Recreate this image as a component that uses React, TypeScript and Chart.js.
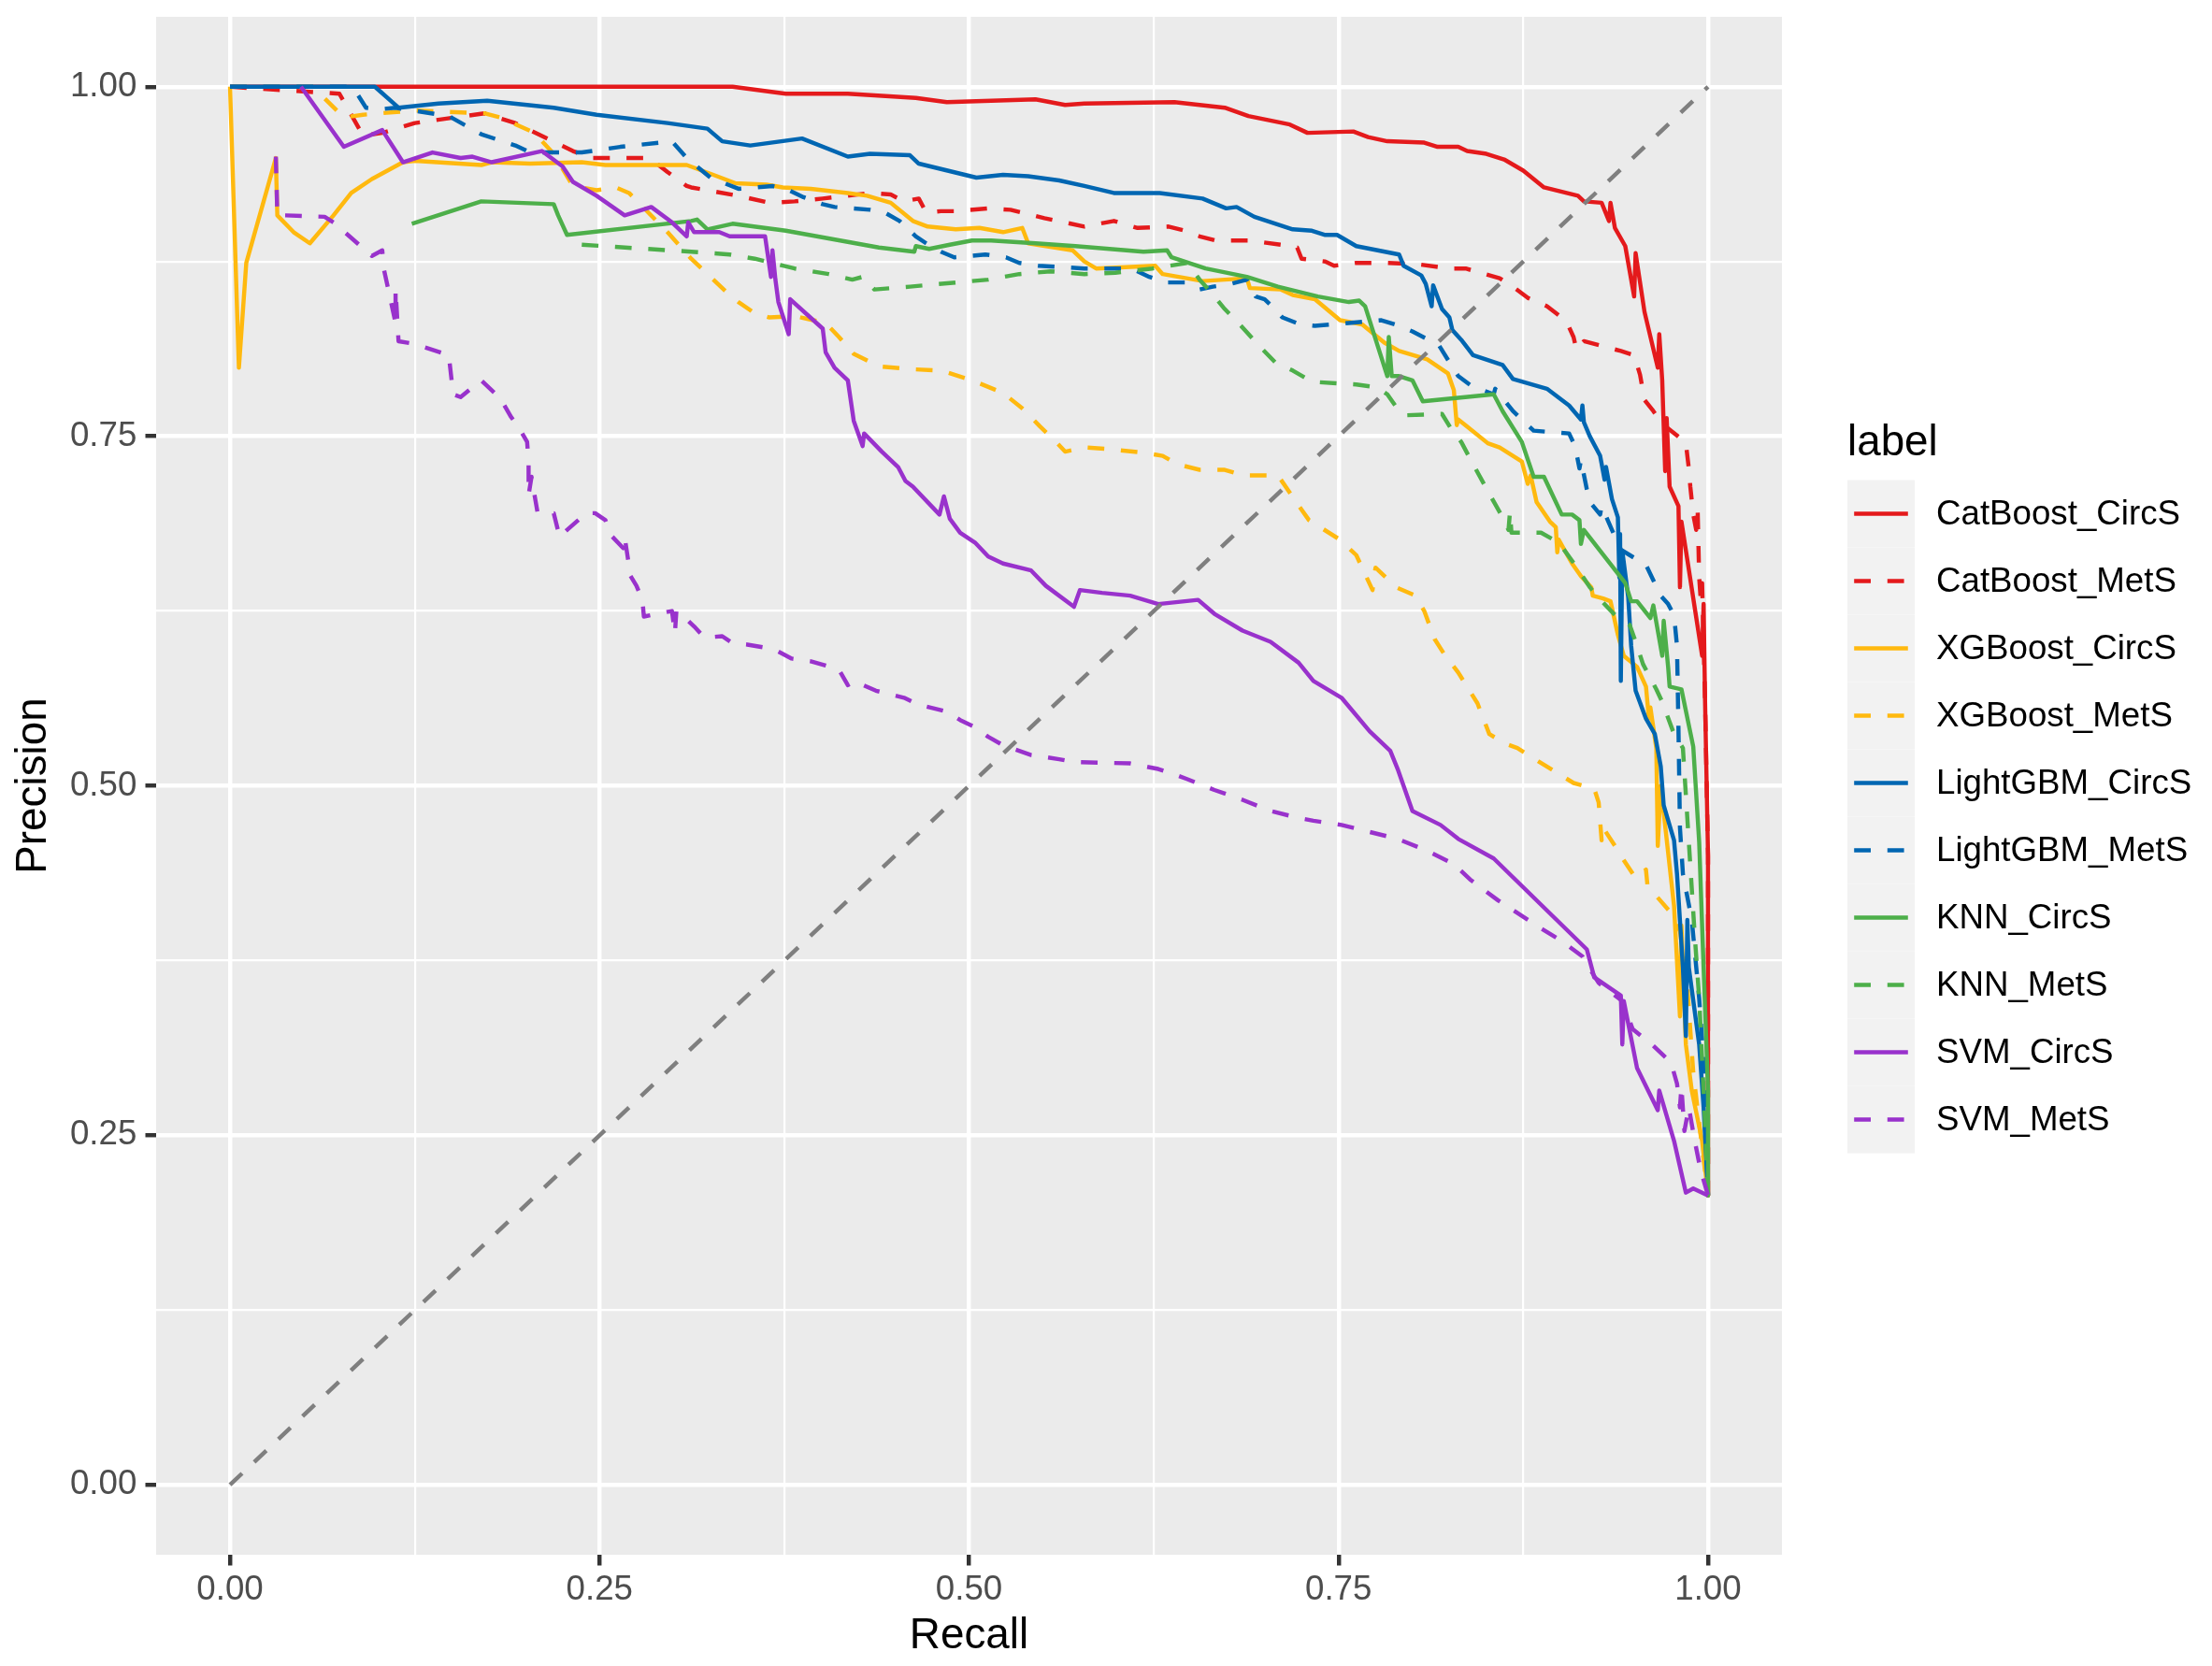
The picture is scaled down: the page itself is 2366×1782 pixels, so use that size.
import React, { useEffect, useRef } from 'react';
import { Chart, registerables } from 'chart.js';

Chart.register(...registerables);

// ---------- data ----------
const MAJOR_TICKS = [0, 0.25, 0.5, 0.75, 1];
const MINOR_TICKS = [0.125, 0.375, 0.625, 0.875];
const TICK_LABELS = ['0.00', '0.25', '0.50', '0.75', '1.00'];

const SERIES_LABELS = [
  'CatBoost_CircS', 'CatBoost_MetS', 'XGBoost_CircS', 'XGBoost_MetS', 'LightGBM_CircS',
  'LightGBM_MetS', 'KNN_CircS', 'KNN_MetS', 'SVM_CircS', 'SVM_MetS',
];

// [recall, precision]
const CATBOOST_CIRCS = [[0,1],[0.34,1],[0.376,0.995],[0.418,0.995],[0.464,0.992],[0.485,0.989],[0.545,0.991],[0.565,0.987],[0.578,0.988],[0.639,0.989],[0.673,0.985],[0.689,0.979],[0.717,0.973],[0.729,0.967],[0.76,0.968],[0.77,0.964],[0.783,0.961],[0.808,0.96],[0.817,0.957],[0.831,0.957],[0.837,0.954],[0.85,0.952],[0.862,0.948],[0.875,0.94],[0.889,0.928],[0.912,0.922],[0.916,0.918],[0.928,0.917],[0.933,0.904],[0.934,0.917],[0.937,0.899],[0.944,0.886],[0.95,0.85],[0.951,0.881],[0.957,0.839],[0.966,0.799],[0.967,0.823],[0.969,0.79],[0.971,0.725],[0.972,0.763],[0.974,0.714],[0.98,0.7],[0.981,0.642],[0.982,0.689],[0.996,0.593],[0.997,0.63],[0.998,0.56],[1,0.45],[1,0.207]];

const CATBOOST_METS = [[0,1],[0.074,0.995],[0.09,0.965],[0.103,0.967],[0.125,0.974],[0.172,0.981],[0.193,0.974],[0.232,0.954],[0.245,0.949],[0.284,0.949],[0.296,0.939],[0.309,0.929],[0.312,0.928],[0.344,0.922],[0.365,0.917],[0.382,0.918],[0.401,0.92],[0.433,0.924],[0.447,0.923],[0.456,0.918],[0.466,0.92],[0.471,0.91],[0.481,0.911],[0.491,0.911],[0.513,0.913],[0.528,0.912],[0.551,0.906],[0.578,0.9],[0.593,0.903],[0.598,0.904],[0.614,0.899],[0.635,0.9],[0.646,0.897],[0.656,0.893],[0.667,0.89],[0.69,0.89],[0.711,0.887],[0.722,0.885],[0.725,0.877],[0.741,0.875],[0.747,0.872],[0.762,0.874],[0.783,0.874],[0.804,0.873],[0.825,0.87],[0.836,0.87],[0.849,0.866],[0.859,0.863],[0.868,0.857],[0.878,0.849],[0.891,0.843],[0.901,0.835],[0.906,0.828],[0.909,0.821],[0.911,0.812],[0.916,0.818],[0.941,0.811],[0.95,0.808],[0.954,0.794],[0.957,0.776],[0.963,0.768],[0.969,0.759],[0.982,0.748],[0.985,0.745],[0.987,0.727],[0.988,0.714],[0.99,0.694],[0.992,0.683],[0.993,0.696],[0.994,0.649],[0.995,0.634],[0.996,0.645],[0.998,0.56],[1,0.45],[1,0.207]];

const XGBOOST_CIRCS = [[0,1],[0.006,0.799],[0.011,0.874],[0.031,0.949],[0.032,0.908],[0.043,0.896],[0.054,0.888],[0.07,0.908],[0.082,0.924],[0.096,0.934],[0.117,0.946],[0.125,0.947],[0.17,0.944],[0.177,0.946],[0.203,0.945],[0.238,0.946],[0.254,0.944],[0.309,0.944],[0.327,0.937],[0.342,0.931],[0.363,0.93],[0.374,0.928],[0.393,0.927],[0.418,0.924],[0.431,0.922],[0.447,0.917],[0.462,0.904],[0.472,0.9],[0.491,0.898],[0.507,0.899],[0.523,0.896],[0.536,0.899],[0.54,0.888],[0.57,0.883],[0.578,0.875],[0.586,0.87],[0.626,0.872],[0.631,0.866],[0.658,0.861],[0.688,0.863],[0.69,0.856],[0.711,0.855],[0.719,0.851],[0.734,0.848],[0.751,0.833],[0.766,0.83],[0.781,0.817],[0.791,0.811],[0.81,0.805],[0.824,0.795],[0.828,0.783],[0.83,0.758],[0.831,0.762],[0.837,0.757],[0.851,0.745],[0.859,0.742],[0.874,0.732],[0.878,0.716],[0.88,0.722],[0.884,0.703],[0.893,0.689],[0.897,0.685],[0.898,0.667],[0.899,0.676],[0.908,0.659],[0.914,0.65],[0.921,0.642],[0.922,0.636],[0.929,0.634],[0.934,0.632],[0.939,0.608],[0.943,0.593],[0.952,0.585],[0.958,0.571],[0.96,0.548],[0.961,0.556],[0.965,0.527],[0.966,0.457],[0.968,0.5],[0.977,0.414],[0.981,0.335],[0.982,0.4],[0.985,0.315],[0.989,0.282],[0.996,0.246],[1,0.207]];

const XGBOOST_METS = [[0,1],[0.056,1],[0.077,0.978],[0.09,0.98],[0.125,0.983],[0.172,0.981],[0.183,0.978],[0.206,0.967],[0.219,0.952],[0.232,0.929],[0.248,0.926],[0.261,0.928],[0.27,0.924],[0.296,0.896],[0.312,0.877],[0.323,0.866],[0.336,0.853],[0.344,0.846],[0.355,0.838],[0.365,0.835],[0.382,0.836],[0.403,0.831],[0.412,0.821],[0.422,0.809],[0.439,0.8],[0.46,0.798],[0.481,0.797],[0.502,0.79],[0.523,0.781],[0.536,0.77],[0.548,0.757],[0.557,0.748],[0.565,0.739],[0.578,0.742],[0.593,0.741],[0.62,0.738],[0.631,0.736],[0.641,0.73],[0.656,0.726],[0.673,0.726],[0.686,0.722],[0.709,0.722],[0.72,0.705],[0.73,0.69],[0.751,0.676],[0.762,0.665],[0.773,0.64],[0.775,0.656],[0.789,0.642],[0.802,0.636],[0.808,0.625],[0.815,0.605],[0.821,0.595],[0.831,0.581],[0.844,0.559],[0.852,0.537],[0.863,0.53],[0.871,0.527],[0.886,0.517],[0.909,0.502],[0.923,0.498],[0.926,0.488],[0.928,0.461],[0.929,0.47],[0.937,0.457],[0.941,0.45],[0.951,0.434],[0.958,0.44],[0.959,0.429],[0.966,0.42],[0.975,0.409],[0.981,0.396],[0.986,0.356],[0.99,0.295],[0.995,0.25],[1,0.207]];

const LIGHTGBM_CIRCS = [[0,1],[0.098,1],[0.114,0.985],[0.141,0.988],[0.174,0.99],[0.219,0.985],[0.248,0.98],[0.296,0.974],[0.323,0.97],[0.333,0.961],[0.352,0.958],[0.387,0.963],[0.418,0.95],[0.433,0.952],[0.46,0.951],[0.466,0.945],[0.505,0.935],[0.523,0.937],[0.54,0.936],[0.561,0.933],[0.578,0.929],[0.598,0.924],[0.629,0.924],[0.658,0.92],[0.674,0.913],[0.681,0.914],[0.693,0.907],[0.719,0.898],[0.732,0.897],[0.741,0.894],[0.749,0.894],[0.762,0.886],[0.791,0.88],[0.794,0.872],[0.806,0.865],[0.809,0.859],[0.813,0.843],[0.814,0.858],[0.82,0.841],[0.825,0.835],[0.827,0.826],[0.833,0.819],[0.841,0.808],[0.861,0.801],[0.868,0.791],[0.891,0.784],[0.906,0.772],[0.914,0.762],[0.915,0.772],[0.916,0.76],[0.92,0.75],[0.927,0.736],[0.93,0.719],[0.931,0.728],[0.935,0.705],[0.939,0.692],[0.94,0.649],[0.9405,0.68],[0.941,0.575],[0.942,0.668],[0.946,0.635],[0.948,0.6],[0.951,0.568],[0.958,0.548],[0.964,0.537],[0.968,0.514],[0.97,0.486],[0.977,0.461],[0.979,0.437],[0.983,0.37],[0.985,0.321],[0.986,0.404],[0.987,0.37],[0.994,0.315],[0.997,0.27],[1,0.207]];

const LIGHTGBM_METS = [[0,1],[0.083,1],[0.092,0.985],[0.103,0.984],[0.112,0.985],[0.148,0.979],[0.17,0.966],[0.193,0.958],[0.203,0.953],[0.238,0.953],[0.264,0.957],[0.299,0.961],[0.309,0.949],[0.325,0.935],[0.344,0.927],[0.367,0.929],[0.378,0.926],[0.388,0.921],[0.401,0.916],[0.409,0.914],[0.433,0.912],[0.443,0.91],[0.453,0.904],[0.464,0.893],[0.471,0.888],[0.481,0.882],[0.49,0.878],[0.511,0.88],[0.525,0.878],[0.534,0.874],[0.547,0.872],[0.578,0.87],[0.61,0.87],[0.622,0.864],[0.633,0.86],[0.646,0.86],[0.656,0.855],[0.665,0.857],[0.677,0.859],[0.688,0.862],[0.694,0.85],[0.7,0.848],[0.707,0.841],[0.712,0.835],[0.724,0.83],[0.734,0.829],[0.757,0.831],[0.779,0.833],[0.791,0.829],[0.8,0.825],[0.811,0.819],[0.818,0.815],[0.825,0.803],[0.831,0.793],[0.84,0.786],[0.855,0.78],[0.856,0.784],[0.868,0.768],[0.882,0.754],[0.906,0.752],[0.91,0.743],[0.913,0.727],[0.914,0.733],[0.918,0.712],[0.92,0.703],[0.927,0.694],[0.928,0.7],[0.935,0.683],[0.941,0.669],[0.947,0.665],[0.958,0.658],[0.963,0.647],[0.968,0.636],[0.973,0.63],[0.977,0.622],[0.979,0.6],[0.98,0.54],[0.981,0.47],[0.983,0.437],[0.989,0.404],[0.994,0.348],[0.997,0.303],[1,0.207]];

const KNN_CIRCS = [[0.123,0.902],[0.17,0.918],[0.219,0.916],[0.222,0.908],[0.228,0.894],[0.312,0.904],[0.316,0.905],[0.323,0.898],[0.34,0.902],[0.376,0.897],[0.418,0.889],[0.439,0.885],[0.463,0.882],[0.464,0.886],[0.473,0.884],[0.487,0.887],[0.502,0.89],[0.515,0.89],[0.545,0.888],[0.572,0.886],[0.618,0.882],[0.634,0.883],[0.637,0.878],[0.66,0.87],[0.688,0.864],[0.709,0.857],[0.736,0.85],[0.757,0.846],[0.764,0.847],[0.768,0.843],[0.783,0.793],[0.784,0.821],[0.786,0.793],[0.791,0.793],[0.8,0.79],[0.807,0.775],[0.855,0.78],[0.861,0.768],[0.874,0.746],[0.882,0.721],[0.889,0.721],[0.901,0.694],[0.908,0.694],[0.913,0.69],[0.914,0.673],[0.916,0.683],[0.944,0.645],[0.948,0.632],[0.952,0.632],[0.961,0.62],[0.963,0.629],[0.967,0.605],[0.969,0.593],[0.97,0.618],[0.973,0.585],[0.974,0.571],[0.982,0.569],[0.99,0.528],[0.994,0.46],[0.997,0.37],[1,0.282],[1,0.207]];

const KNN_METS = [[0.238,0.887],[0.312,0.882],[0.338,0.88],[0.355,0.877],[0.382,0.87],[0.405,0.866],[0.421,0.862],[0.428,0.864],[0.436,0.855],[0.46,0.857],[0.491,0.86],[0.513,0.862],[0.534,0.866],[0.555,0.868],[0.578,0.866],[0.599,0.867],[0.624,0.87],[0.648,0.874],[0.656,0.862],[0.662,0.855],[0.673,0.841],[0.684,0.829],[0.696,0.815],[0.707,0.803],[0.719,0.797],[0.732,0.789],[0.762,0.787],[0.776,0.785],[0.783,0.78],[0.791,0.768],[0.795,0.765],[0.82,0.766],[0.827,0.754],[0.833,0.746],[0.84,0.732],[0.853,0.707],[0.861,0.692],[0.865,0.683],[0.866,0.696],[0.867,0.681],[0.887,0.681],[0.899,0.674],[0.91,0.658],[0.92,0.642],[0.929,0.631],[0.939,0.62],[0.947,0.615],[0.952,0.6],[0.956,0.587],[0.965,0.569],[0.969,0.56],[0.977,0.537],[0.983,0.527],[0.987,0.46],[0.991,0.393],[0.994,0.348],[0.997,0.282],[1,0.207]];

const SVM_CIRCS = [[0.048,1],[0.077,0.957],[0.103,0.969],[0.117,0.946],[0.137,0.953],[0.156,0.949],[0.164,0.95],[0.177,0.946],[0.211,0.954],[0.225,0.943],[0.232,0.932],[0.248,0.922],[0.267,0.908],[0.285,0.914],[0.299,0.903],[0.309,0.893],[0.31,0.903],[0.314,0.896],[0.319,0.896],[0.331,0.896],[0.338,0.893],[0.362,0.893],[0.366,0.864],[0.367,0.883],[0.369,0.862],[0.371,0.846],[0.378,0.823],[0.379,0.848],[0.401,0.827],[0.403,0.81],[0.409,0.799],[0.418,0.79],[0.422,0.761],[0.428,0.743],[0.429,0.752],[0.441,0.739],[0.452,0.728],[0.457,0.718],[0.462,0.714],[0.48,0.694],[0.483,0.707],[0.487,0.691],[0.494,0.681],[0.504,0.674],[0.513,0.664],[0.523,0.659],[0.542,0.654],[0.552,0.643],[0.571,0.628],[0.575,0.64],[0.59,0.638],[0.609,0.636],[0.628,0.63],[0.655,0.633],[0.666,0.623],[0.685,0.611],[0.704,0.603],[0.723,0.588],[0.733,0.575],[0.752,0.563],[0.771,0.539],[0.785,0.525],[0.79,0.512],[0.8,0.482],[0.819,0.472],[0.831,0.462],[0.855,0.448],[0.918,0.383],[0.923,0.363],[0.941,0.35],[0.942,0.315],[0.943,0.346],[0.952,0.298],[0.966,0.268],[0.967,0.282],[0.977,0.246],[0.985,0.209],[0.99,0.212],[1,0.207]];

const SVM_METS = [[0.031,0.95],[0.032,0.908],[0.038,0.908],[0.064,0.907],[0.07,0.903],[0.096,0.879],[0.103,0.883],[0.104,0.87],[0.112,0.831],[0.112,0.855],[0.114,0.818],[0.125,0.816],[0.148,0.808],[0.151,0.78],[0.156,0.778],[0.17,0.79],[0.183,0.777],[0.19,0.764],[0.195,0.757],[0.201,0.746],[0.202,0.732],[0.202,0.708],[0.204,0.721],[0.206,0.708],[0.208,0.696],[0.219,0.695],[0.223,0.678],[0.228,0.683],[0.241,0.695],[0.247,0.695],[0.254,0.69],[0.257,0.68],[0.266,0.67],[0.267,0.678],[0.269,0.664],[0.271,0.65],[0.275,0.643],[0.279,0.633],[0.28,0.621],[0.289,0.623],[0.299,0.625],[0.301,0.609],[0.302,0.625],[0.305,0.623],[0.314,0.614],[0.321,0.606],[0.333,0.607],[0.34,0.602],[0.35,0.601],[0.361,0.599],[0.371,0.596],[0.38,0.591],[0.393,0.589],[0.403,0.586],[0.412,0.583],[0.418,0.572],[0.422,0.575],[0.437,0.568],[0.456,0.563],[0.466,0.558],[0.485,0.553],[0.494,0.547],[0.504,0.542],[0.513,0.535],[0.523,0.529],[0.542,0.522],[0.561,0.519],[0.571,0.517],[0.609,0.516],[0.628,0.512],[0.637,0.509],[0.647,0.505],[0.666,0.497],[0.685,0.49],[0.704,0.482],[0.723,0.477],[0.733,0.475],[0.752,0.472],[0.771,0.467],[0.79,0.462],[0.809,0.454],[0.828,0.444],[0.839,0.433],[0.858,0.418],[0.884,0.4],[0.901,0.389],[0.915,0.378],[0.92,0.369],[0.926,0.359],[0.932,0.354],[0.942,0.346],[0.949,0.326],[0.962,0.315],[0.975,0.302],[0.979,0.287],[0.981,0.27],[0.982,0.285],[0.984,0.253],[0.987,0.27],[0.991,0.246],[0.995,0.225],[1,0.207]];

const DIAGONAL = [[0, 0], [1, 1]];

const SERIES_DATA = [
  CATBOOST_CIRCS, CATBOOST_METS, XGBOOST_CIRCS, XGBOOST_METS, LIGHTGBM_CIRCS,
  LIGHTGBM_METS, KNN_CIRCS, KNN_METS, SVM_CIRCS, SVM_METS,
];

// ---------- styles ----------
const SERIES_COLORS = [
  '#E41A1C', '#E41A1C', '#FFB90F', '#FFB90F', '#0066B2',
  '#0066B2', '#4DAF4A', '#4DAF4A', '#9932CC', '#9932CC',
];
const SERIES_DASHED = [false, true, false, true, false, true, false, true, false, true];

const FONT = "'Liberation Sans', Arial, Helvetica, sans-serif";
const LW = 4.45;
const DASH = [17.8, 17.8];
const W = 2366;
const H = 1782;

const isMajor = (v: number) => MAJOR_TICKS.some((m) => Math.abs(m - v) < 1e-9);
const tickLabel = (v: number) => {
  const i = MAJOR_TICKS.findIndex((m) => Math.abs(m - v) < 1e-9);
  return i >= 0 ? TICK_LABELS[i] : '';
};
const ALL_TICKS = [...MAJOR_TICKS, ...MINOR_TICKS].sort((a, b) => a - b);

const panelBackground = {
  id: 'panelBackground',
  beforeDraw(chart: any) {
    const { ctx, chartArea: a } = chart;
    ctx.save();
    ctx.fillStyle = '#FFFFFF';
    ctx.fillRect(0, 0, chart.width, chart.height);
    ctx.fillStyle = '#EBEBEB';
    ctx.fillRect(a.left, a.top, a.right - a.left, a.bottom - a.top);
    ctx.restore();
  },
};

const ggLegend = {
  id: 'ggLegend',
  afterDraw(chart: any) {
    const { ctx } = chart;
    const left = 1976;
    const keyTop = 513.5;
    const key = 72;
    ctx.save();
    ctx.fillStyle = '#000000';
    ctx.font = `45.8px ${FONT}`;
    ctx.textBaseline = 'alphabetic';
    ctx.textAlign = 'left';
    ctx.fillText('label', left, 487);
    const items = chart.data.datasets.filter((d: any) => d.legendIndex !== undefined);
    items.sort((a: any, b: any) => a.legendIndex - b.legendIndex);
    items.forEach((d: any, i: number) => {
      const top = keyTop + i * key;
      ctx.fillStyle = '#F2F2F2';
      ctx.fillRect(left, top, key, key);
      const cy = top + key / 2;
      ctx.beginPath();
      ctx.strokeStyle = d.borderColor;
      ctx.lineWidth = LW;
      ctx.lineCap = 'butt';
      ctx.setLineDash(d.borderDash || []);
      ctx.moveTo(left + key * 0.1, cy);
      ctx.lineTo(left + key * 0.9, cy);
      ctx.stroke();
      ctx.setLineDash([]);
      ctx.fillStyle = '#000000';
      ctx.font = `36.7px ${FONT}`;
      ctx.textBaseline = 'middle';
      ctx.fillText(d.label, left + key + 23, cy + 1.8);
    });
    ctx.restore();
  },
};

function makeScale(title: string, isY: boolean) {
  return {
    type: 'linear' as const,
    min: -0.05,
    max: 1.05,
    afterBuildTicks: (s: any) => {
      s.ticks = ALL_TICKS.map((v) => ({ value: v }));
    },
    afterFit: (s: any) => {
      if (isY) s.width = 167;
      else s.height = 119;
      s.paddingTop = 0;
      s.paddingBottom = 0;
      s.paddingLeft = 0;
      s.paddingRight = 0;
    },
    border: { display: false },
    grid: {
      color: '#FFFFFF',
      lineWidth: (c: any) => (isMajor(c.tick?.value) ? LW : LW / 2),
      drawTicks: true,
      tickLength: 11.5,
      tickColor: (c: any) => (isMajor(c.tick?.value) ? '#333333' : 'rgba(0,0,0,0)'),
      tickWidth: LW,
    },
    ticks: {
      autoSkip: false,
      maxRotation: 0,
      minRotation: 0,
      color: '#4D4D4D',
      font: { family: FONT, size: 36.7, lineHeight: 1.2 },
      padding: isY ? 9.2 : 4.5,
      callback: (v: any) => tickLabel(Number(v)),
    },
    title: {
      display: true,
      text: title,
      color: '#000000',
      font: { family: FONT, size: 45.8, lineHeight: 1.2 },
      padding: isY ? { top: 9, bottom: 0 } : { top: 0, bottom: 4.5 },
    },
  };
}

export default function App() {
  const ref = useRef<HTMLCanvasElement | null>(null);

  useEffect(() => {
    if (!ref.current) return;
    const datasets: any[] = SERIES_DATA.map((pts, i) => ({
      label: SERIES_LABELS[i],
      legendIndex: i,
      data: pts.map(([x, y]) => ({ x, y })),
      borderColor: SERIES_COLORS[i],
      backgroundColor: SERIES_COLORS[i],
      borderWidth: LW,
      borderDash: SERIES_DASHED[i] ? DASH : [],
      borderJoinStyle: 'round',
      borderCapStyle: 'butt',
      pointRadius: 0,
      pointHoverRadius: 0,
      tension: 0,
      fill: false,
      order: 20 - i,
    }));
    datasets.push({
      label: 'diagonal',
      data: DIAGONAL.map(([x, y]) => ({ x, y })),
      borderColor: '#7F7F7F',
      borderWidth: LW,
      borderDash: DASH,
      borderCapStyle: 'butt',
      pointRadius: 0,
      pointHoverRadius: 0,
      tension: 0,
      fill: false,
      order: 0,
    });

    const chart = new Chart(ref.current, {
      type: 'line',
      data: { datasets },
      options: {
        animation: false,
        responsive: false,
        devicePixelRatio: 1,
        events: [],
        layout: { padding: { left: 0, top: 18, right: 460, bottom: 0 } },
        plugins: {
          legend: { display: false },
          tooltip: { enabled: false },
          title: { display: false },
        },
        scales: {
          x: makeScale('Recall', false) as any,
          y: makeScale('Precision', true) as any,
        },
      },
      plugins: [panelBackground, ggLegend],
    });
    return () => chart.destroy();
  }, []);

  return (
    <div style={{ position: 'fixed', left: 0, top: 0, width: W, height: H, background: '#FFFFFF' }}>
      <canvas ref={ref} width={W} height={H} style={{ width: W, height: H, display: 'block' }} />
    </div>
  );
}
